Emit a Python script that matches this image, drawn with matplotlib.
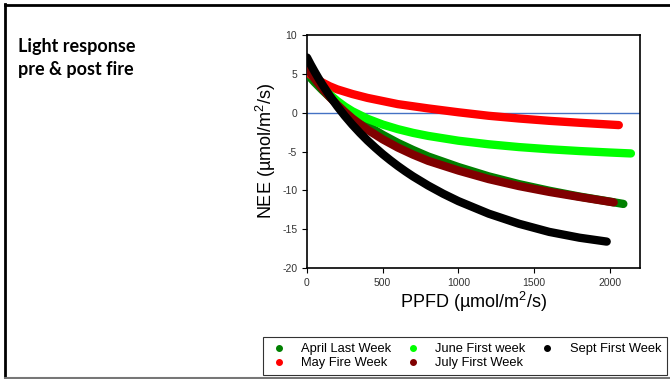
import matplotlib
matplotlib.use("Agg")
import matplotlib.pyplot as plt
from matplotlib.lines import Line2D

plt.rcParams['font.family'] = ['Liberation Sans', 'DejaVu Sans']
plt.rcParams['axes.unicode_minus'] = False
plt.rcParams['mathtext.fontset'] = 'custom'
plt.rcParams['mathtext.rm'] = 'Liberation Sans'
plt.rcParams['mathtext.default'] = 'regular'

# light response curves (PPFD, NEE)
april_ppfd = [0, 50, 100, 150, 200, 250, 300, 400, 500, 600, 700, 800, 1000, 1200, 1400, 1600, 1800, 2000, 2090]
april_nee = [5.0, 3.92, 2.93, 2.01, 1.16, 0.38, -0.36, -1.69, -2.85, -3.89, -4.8, -5.64, -7.0, -8.2, -9.2, -10.05, -10.8, -11.45, -11.75]

may_ppfd = [0, 25, 50, 100, 150, 200, 300, 400, 500, 600, 800, 1000, 1200, 1400, 1600, 1800, 2060]
may_nee = [5.3, 4.85, 4.5, 3.9, 3.4, 3.0, 2.4, 1.9, 1.5, 1.1, 0.55, 0.05, -0.4, -0.75, -1.05, -1.3, -1.6]

june_ppfd = [0, 50, 100, 150, 200, 250, 300, 400, 500, 600, 700, 800, 1000, 1200, 1400, 1600, 1800, 2000, 2140]
june_nee = [6.3, 4.66, 3.38, 2.34, 1.5, 0.79, 0.18, -0.79, -1.53, -2.12, -2.6, -2.99, -3.61, -4.07, -4.43, -4.71, -4.94, -5.13, -5.25]

july_ppfd = [0, 50, 100, 150, 200, 250, 300, 400, 500, 600, 700, 800, 1000, 1200, 1400, 1600, 1800, 2026]
july_nee = [5.8, 4.39, 3.13, 2.01, 1.0, 0.1, -0.75, -2.2, -3.43, -4.49, -5.4, -6.2, -7.45, -8.55, -9.45, -10.2, -10.85, -11.55]

sept_ppfd = [0, 25, 50, 75, 100, 150, 200, 250, 300, 350, 400, 450, 500, 550, 600, 650, 700, 800, 900, 1000,
             1200, 1400, 1600, 1800, 1980]
sept_nee = [7.1, 6.17, 5.3, 4.46, 3.66, 2.18, 0.82, -0.42, -1.56, -2.61, -3.59, -4.49, -5.34, -6.12, -6.86, -7.55,
            -8.2, -9.38, -10.44, -11.39, -13.0, -14.3, -15.35, -16.1, -16.6]

labels = ["April Last Week", "May Fire Week", "June First week", "July First Week", "Sept First Week"]
colors = ["#008000", "#ff0000", "#00ff00", "#800000", "#000000"]

fig = plt.figure(figsize=(6.7, 3.79), dpi=100)
ax = fig.add_axes([307/670, 1 - 268/379, 333/670, 233/379])

series = [(april_ppfd, april_nee), (may_ppfd, may_nee), (june_ppfd, june_nee),
          (july_ppfd, july_nee), (sept_ppfd, sept_nee)]
for (x, y), c in zip(series, colors):
    ax.plot(x, y, color=c, lw=6, solid_capstyle='round', solid_joinstyle='round', zorder=3)

ax.axhline(0, color="#4472c4", lw=1, zorder=2)

ax.set_xlim(0, 2200)
ax.set_ylim(-20, 10)
ax.set_xticks([0, 500, 1000, 1500, 2000])
ax.set_yticks([-20, -15, -10, -5, 0, 5, 10])
ax.tick_params(labelsize=7.5, colors='black', labelcolor='#333333', length=3.5, width=0.8, direction='out')
for s in ax.spines.values():
    s.set_linewidth(1.2)

ax.set_xlabel("PPFD (µmol/m$^2$/s)", fontsize=13)
ax.set_ylabel("NEE (µmol/m$^2$/s)", fontsize=13)
ax.xaxis.set_label_coords(0.5, -0.095)
ax.yaxis.set_label_coords(-0.087, 0.5)

fig.text(18/670, 1 - 38/379, "Light response\npre & post fire", fontsize=13,
         fontweight='bold', family=['Lato', 'DejaVu Sans'], va='top', ha='left', linespacing=1.45)

handles = [Line2D([], [], marker='o', ls='none', color=c, markersize=4) for c in colors]
leg = fig.legend(handles, labels, ncol=3, loc='lower left',
                 bbox_to_anchor=(263/670, 4/379), borderaxespad=0,
                 fontsize=9.3, frameon=True, fancybox=False, handlelength=1.5,
                 handletextpad=1.0, labelspacing=0.15, borderpad=0.45, columnspacing=0.92)
leg.get_frame().set_edgecolor('black')
leg.get_frame().set_linewidth(0.8)

# page border
fig.add_artist(Line2D([5/670, 5/670], [0, 1 - 4/379], color='black', lw=2, transform=fig.transFigure))
fig.add_artist(Line2D([5/670, 1], [1 - 5/379, 1 - 5/379], color='black', lw=2, transform=fig.transFigure))
fig.add_artist(Line2D([5/670, 1], [1.5/379, 1.5/379], color='#777777', lw=1.5, transform=fig.transFigure))

fig.savefig("out.png", dpi=100)
